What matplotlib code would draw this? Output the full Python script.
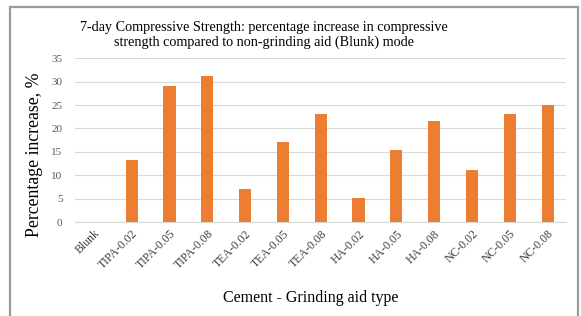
import matplotlib.pyplot as plt
from matplotlib.patches import Rectangle

categories = ['Blunk', 'TIPA-0.02', 'TIPA-0.05', 'TIPA-0.08',
              'TEA-0.02', 'TEA-0.05', 'TEA-0.08',
              'HA-0.02', 'HA-0.05', 'HA-0.08',
              'NC-0.02', 'NC-0.05', 'NC-0.08']
increase = [0, 13.3, 29.1, 31.2, 7.05, 17.0, 23.1, 5.1, 15.4, 21.5, 11.2, 23.1, 25.0]
y_ticks = [0, 5, 10, 15, 20, 25, 30, 35]

plt.rcParams['font.family'] = ['Liberation Serif', 'DejaVu Serif']

fig = plt.figure(figsize=(5.81, 3.16), dpi=100)
ax = fig.add_axes([0.129, 0.297, 0.846, 0.519])

# outer chart frame (bottom edge is cut off in the original)
fig.patches.append(Rectangle((9.5 / 581, -0.05), 568 / 581, 1 - 6.5 / 316 + 0.05,
                             transform=fig.transFigure, fill=False,
                             edgecolor='#9a9a9a', linewidth=1.6))

x = range(len(categories))
ax.bar(x, increase, width=0.32, color='#ed7d31', zorder=3)

ax.set_ylim(0, 35)
ax.set_xlim(-0.5, len(categories) - 0.5)
ax.set_yticks(y_ticks)
ax.set_xticks(list(x))
ax.set_xticklabels(categories, rotation=45, ha='right', rotation_mode='anchor',
                   fontsize=8.5, color='#404040')
ax.tick_params(axis='y', labelsize=8, labelcolor='#595959', length=0, pad=9)
ax.tick_params(axis='x', length=0, pad=4)
ax.grid(axis='y', color='#d9d9d9', linewidth=0.8, zorder=0)
for s in ['top', 'right', 'left']:
    ax.spines[s].set_visible(False)
ax.spines['bottom'].set_color('#d9d9d9')

ax.set_ylabel('Percentage increase, %', fontsize=12.8)
ax.yaxis.set_label_coords(-0.066, 0.41)
ax.set_xlabel('Cement - Grinding aid type', fontsize=11.5)
ax.xaxis.set_label_coords(0.48, -0.415)
fig.text(0.455, 0.845, '7-day Compressive Strength: percentage increase in compressive\n'
         'strength compared to non-grinding aid (Blunk) mode',
         ha='center', va='bottom', fontsize=10.2, linespacing=1.1)

fig.savefig('out.png', dpi=100)
